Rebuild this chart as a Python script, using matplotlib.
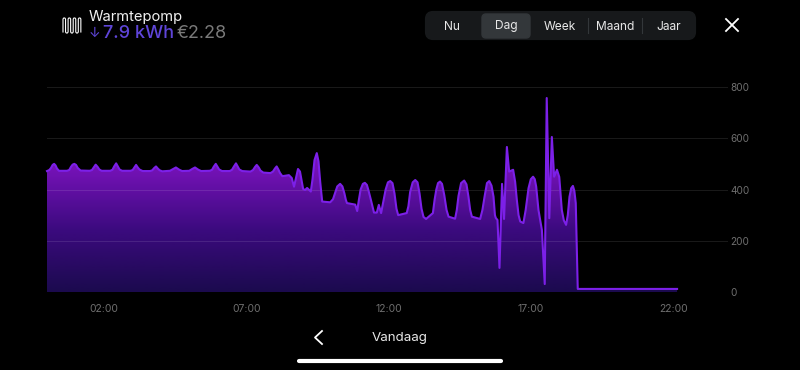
# Warmtepomp day chart, dark app screen
import numpy as np
import matplotlib
matplotlib.use('Agg')
import matplotlib.pyplot as plt
from matplotlib.colors import LinearSegmentedColormap
from matplotlib.patches import FancyBboxPatch

plt.rcParams['font.family'] = ['Inter', 'DejaVu Sans']

# Data
hours = [0.00, 0.08, 0.14, 0.20, 0.25, 0.30, 0.35, 0.42, 0.70, 0.78, 0.84, 0.90, 0.96, 1.02, 1.08, 1.18, 1.50, 1.58, 1.64, 1.71, 1.78, 1.84, 1.92,
         2.22, 2.30, 2.36, 2.43, 2.49, 2.55, 2.64, 2.93, 3.01, 3.07, 3.13, 3.19, 3.25, 3.36, 3.62, 3.70, 3.76, 3.83, 3.90, 3.96, 4.05,
         4.32, 4.42, 4.53, 4.65, 4.75, 5.00, 5.10, 5.20, 5.32, 5.42, 5.72, 5.80, 5.86, 5.93, 5.99, 6.05, 6.15,
         6.42, 6.50, 6.57, 6.64, 6.70, 6.76, 6.86, 7.15, 7.24, 7.31, 7.37, 7.44, 7.50, 7.60, 7.85, 7.94, 8.01, 8.07, 8.13, 8.19, 8.27,
         8.50, 8.60, 8.68, 8.75, 8.82, 8.89, 9.00, 9.07, 9.14, 9.27, 9.33, 9.40, 9.48, 9.54, 9.60, 9.67, 9.95,
         10.05, 10.12, 10.20, 10.30, 10.38, 10.45, 10.50, 10.54, 10.83, 10.90, 10.96, 11.02, 11.10, 11.17, 11.24, 11.30, 11.38,
         11.49, 11.59, 11.66, 11.74, 11.82, 11.90, 11.98, 12.06, 12.14, 12.21, 12.28, 12.34, 12.64, 12.70, 12.76, 12.85, 12.94,
         13.02, 13.09, 13.16, 13.23, 13.32, 13.56, 13.62, 13.68, 13.74, 13.81, 13.88, 13.96, 14.04, 14.11, 14.34, 14.40, 14.46,
         14.55, 14.66, 14.74, 14.81, 14.87, 14.93, 15.22, 15.30, 15.38, 15.46, 15.54, 15.62, 15.69, 15.74, 15.77, 15.83,
         15.90, 15.95, 15.99, 16.06, 16.16, 16.24, 16.38, 16.45, 16.51, 16.57, 16.63, 16.74, 16.82, 16.92, 17.00, 17.08, 17.14, 17.19,
         17.27, 17.33, 17.39, 17.49, 17.56, 17.65, 17.74, 17.82, 17.92, 18.00, 18.09, 18.16, 18.24, 18.30, 18.36, 18.42, 18.48,
         18.53, 18.58, 18.65, 22.14]
watts = [472, 476, 484, 496, 500, 494, 482, 473, 473, 476, 488, 497, 500, 496, 484, 474, 473, 476, 486, 497, 488, 478, 473,
         473, 477, 490, 502, 490, 478, 473, 473, 476, 486, 496, 486, 478, 472, 472, 475, 483, 490, 481, 475, 471,
         473, 479, 486, 477, 472, 473, 480, 486, 477, 472, 473, 477, 489, 500, 489, 478, 472,
         472, 477, 490, 502, 490, 478, 472, 470, 476, 488, 496, 486, 474, 466, 464, 470, 482, 490, 478, 464, 452,
         456, 445, 411, 445, 480, 470, 402, 398, 406, 392, 440, 515, 542, 510, 430, 353, 350,
         362, 385, 412, 422, 412, 385, 360, 347, 341, 316, 360, 400, 422, 426, 418, 395, 360,
         310, 310, 340, 308, 355, 400, 428, 433, 425, 385, 325, 300, 308, 335, 390, 428, 437,
         428, 385, 325, 293, 285, 308, 360, 400, 425, 431, 422, 378, 320, 294, 286, 320, 375,
         425, 435, 420, 372, 320, 294, 285, 320, 375, 425, 433, 415, 372, 300, 289, 281,
         94, 269, 422, 285, 566, 470, 477, 430, 359, 300, 275, 269, 320, 405, 440, 450, 440, 411,
         320, 280, 242, 31, 757, 288, 605, 450, 477, 449, 320, 280, 262, 300, 372, 405, 414,
         395, 347, 12, 12]
hour_ticks = [2, 7, 12, 17, 22]
hour_labels = ['02:00', '07:00', '12:00', '17:00', '22:00']
power_ticks = [0, 200, 400, 600, 800]
periods = ['Nu', 'Dag', 'Week', 'Maand', 'Jaar']
period_x = [452, 506, 560, 615, 669]

fig = plt.figure(figsize=(8, 3.7), dpi=100, facecolor='black')

# main chart, px 47..730 wide, y 0 at px 292 and 800 at px 87
ax = fig.add_axes([47 / 800, (370 - 292) / 370, 683 / 800, 205 / 370])
ax.set_facecolor('black')
for s in ax.spines.values():
    s.set_visible(False)

# gradient is flat above about 480, so the spikes stay filled
cmap = LinearSegmentedColormap.from_list(
    'fill', [(0, '#1b0a4e'), (0.3, '#3b0a7e'), (0.6, '#7412b6'), (1, '#7412b6')])
grad = np.linspace(0, 1, 256).reshape(-1, 1)
poly = ax.fill_between(hours, watts, 0, color='none', lw=0)
img = ax.imshow(grad, cmap=cmap, origin='lower', extent=[0, 24, 0, 800],
                aspect='auto', zorder=2)
img.set_clip_path(poly.get_paths()[0], ax.transData)
ax.set_xlim(0, 24)
ax.set_ylim(0, 800)

ax.plot(hours, watts, color='#7c20e8', lw=1.5, zorder=4, solid_joinstyle='round', clip_on=False)

for v in power_ticks:
    ax.plot([0, 23.9], [v, v], color='white', alpha=0.1, lw=0.8, zorder=3)

ax.set_xticks(hour_ticks, hour_labels, color='#6f6f6f', fontsize=7.5)
ax.yaxis.tick_right()
ax.set_yticks(power_ticks, [str(v) for v in power_ticks], color='#6f6f6f', fontsize=7.2)
ax.tick_params(axis='both', length=0)
ax.tick_params(axis='x', pad=9)
ax.tick_params(axis='y', pad=0)

# screen chrome, drawn in pixel coordinates
ui = fig.add_axes([0, 0, 1, 1])
ui.set_xlim(0, 800)
ui.set_ylim(370, 0)
ui.axis('off')
ui.patch.set_alpha(0)

# heater icon, a serpentine with cut corners
icon_x = []
icon_y = []
for i in range(8):
    x0 = 63 + i * 2.55
    if i % 2 == 0:
        icon_x += [x0, x0, x0 + 0.7]
        icon_y += [32, 19, 18]
    else:
        icon_x += [x0 - 0.7, x0, x0]
        icon_y += [18, 19, 32]
    if i % 2 == 1 and i < 7:
        icon_x += [x0 + 0.7, x0 + 1.85]
        icon_y += [33, 33]
ui.plot(icon_x, icon_y, color='white', lw=0.8)

ui.text(89, 16.5, 'Warmtepomp', color='#f0f0f0', fontsize=10.6, va='center')
ui.text(89, 33, '↓', color='#5f45d8', fontsize=10, va='center')
ui.text(103, 33, '7.9 kWh', color='#5f45d8', fontsize=13, va='center', fontweight='medium')
ui.text(177, 33, '€2.28', color='#7a7a7a', fontsize=13, va='center')

ui.add_patch(FancyBboxPatch((427, 13), 267, 25, boxstyle='round,pad=0,rounding_size=6',
                            fc='#17191b', ec='#17191b', lw=3, mutation_aspect=1))
ui.add_patch(FancyBboxPatch((482, 14), 48, 24, boxstyle='round,pad=0,rounding_size=4',
                            fc='#33373a', ec='#33373a', lw=1))
for sx in [588, 642]:
    ui.plot([sx, sx], [18, 33], color='#33373a', lw=0.8)
for name, px in zip(periods, period_x):
    ui.text(px, 26.5, name, color='#e8e8e8', fontsize=8.6, ha='center', va='center')

ui.plot([726, 738], [19, 31], color='white', lw=1.3)
ui.plot([726, 738], [31, 19], color='white', lw=1.3)

ui.plot([322, 315, 322], [331, 337.5, 344], color='white', lw=1.3)
ui.text(400, 338, 'Vandaag', color='#e8e8e8', fontsize=9.6, ha='center', va='center')
ui.plot([299, 501], [360.5, 360.5], color='white', lw=3, solid_capstyle='round')

fig.savefig('out.png', dpi=100, facecolor='black')
